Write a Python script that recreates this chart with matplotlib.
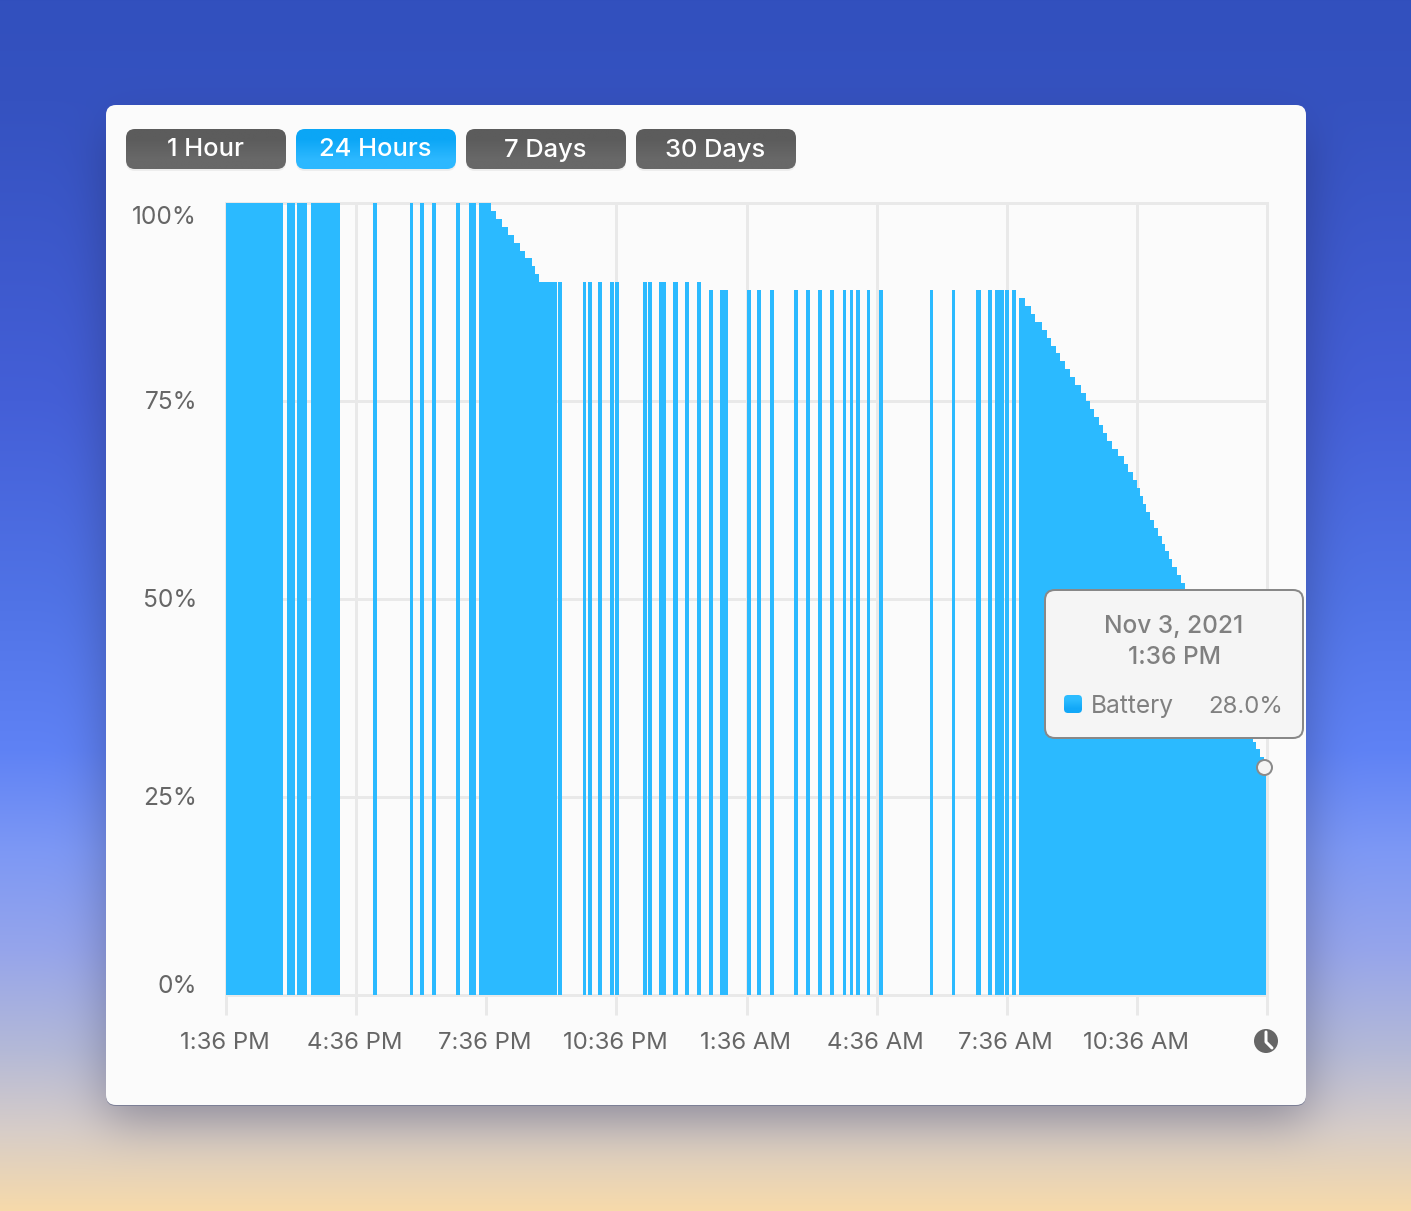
#!/usr/bin/env python3
# battery level chart, last 24 hours, with the window around it
import math
import numpy as np
import matplotlib
matplotlib.use("Agg")
import matplotlib.pyplot as plt
from matplotlib.patches import FancyBboxPatch, Circle
from matplotlib.transforms import ScaledTranslation

plt.rcParams['font.family'] = ['Inter', 'DejaVu Sans']

# minutes since 1:36 PM, stretches where the machine was awake
seg_starts = [0, 84.0, 98.2, 117.6, 203.3, 254.1, 268.4, 285.0, 318.6, 335.7, 350.0, 459.7,
              493.4, 500.3, 515.0, 531.2, 538.5, 577.3, 584.2, 598.6, 617.9, 634.5, 651.5,
              668.6, 683.0, 689.3, 721.1, 735.0, 752.1, 786.1, 802.7, 819.3, 835.9, 853.1,
              862.8, 871.9, 886.3, 903.3, 973.4, 1004.3, 1037.5, 1054.5, 1063.8, 1078.0,
              1087.7, 1097.4]
seg_ends = [78.4, 95.9, 112.5, 157.7, 208.9, 258.7, 273.5, 290.1, 323.7, 345.4, 457.5, 464.8,
            498.0, 505.9, 519.7, 536.7, 544.1, 582.8, 589.7, 608.7, 625.3, 640.0, 657.1,
            673.3, 688.5, 694.8, 726.7, 740.5, 757.7, 791.3, 807.9, 824.5, 841.1, 858.1,
            867.8, 877.4, 891.3, 908.8, 978.0, 1008.8, 1044.8, 1059.2, 1075.8, 1083.1,
            1092.8, 1438.6]

# battery level, each value holds from its time until the next one
level_times = [0, 366.6, 373.1, 382.2, 390.5, 398.8, 406.7, 413.6, 422.9, 427.4, 433.0, 662.0,
               1097.4, 1105.3, 1113.1, 1119.1, 1128.4, 1135.3, 1140.8, 1148.1, 1153.7, 1160.6,
               1167.5, 1174.4, 1182.3, 1189.6, 1195.2, 1200.7, 1208.0, 1213.6, 1218.3, 1225.6,
               1233.9, 1241.5, 1248.4, 1254.7, 1260.2, 1264.4, 1268.5, 1272.6, 1278.2, 1283.7,
               1289.2, 1294.8, 1298.9, 1303.8, 1308.6, 1315.5, 1321.1, 1326.6, 1332.1, 1357.0,
               1381.9, 1406.8, 1416.5, 1420.6, 1424.8, 1430.3, 1435.9]
level_values = [100, 99, 98, 97, 96, 95, 94, 93, 92, 91, 90, 89,
                88, 87, 86, 85, 84, 83, 82, 81, 80, 79,
                78, 77, 76, 75, 74, 73, 72, 71, 70, 69,
                68, 67, 66, 65, 64, 63, 62, 61, 60, 59,
                58, 57, 56, 55, 54, 53, 52, 51, 50, 45,
                40, 35, 33, 32, 31, 30, 29]

x_ticks = [0, 180, 360, 540, 720, 900, 1080, 1260, 1440]
x_labels = ["1:36 PM", "4:36 PM", "7:36 PM", "10:36 PM", "1:36 AM", "4:36 AM", "7:36 AM", "10:36 AM", ""]
y_ticks = [0, 25, 50, 75, 100]
y_labels = ["0%", "25%", "50%", "75%", "100%"]
buttons = ["1 Hour", "24 Hours", "7 Days", "30 Days"]
cursor_time = 1436.0
cursor_level = 28.8

W, H = 1411, 1211
BLUE = '#2bbaff'
GRID = '#e9e9e9'
TXT = '#666666'


def px(n):
    return n * 72 / 100


def gradient_box(ax, x, y, w, h, top, bottom, rad, zorder=3):
    box = FancyBboxPatch((x, y), w, h, boxstyle="round,pad=0,rounding_size=%g" % rad,
                         fc='none', ec='none', zorder=zorder)
    ax.add_patch(box)
    c = np.array([matplotlib.colors.to_rgb(top), matplotlib.colors.to_rgb(bottom)])
    im = ax.imshow(c[:, None, :], extent=(x, x + w, y + h, y), aspect='auto',
                   interpolation='bilinear', zorder=zorder)
    im.set_clip_path(box)


fig = plt.figure(figsize=(W / 100, H / 100), dpi=100)

# desktop, shadow, window
bg = fig.add_axes([0, 0, 1, 1], zorder=0)
bg.set_axis_off()
rows = np.arange(H)
stops = [0, 100, 400, 600, 750, 850, 950, 1050, 1130, 1211]
reds = [50, 53, 68, 80, 95, 125, 150, 180, 215, 247]
greens = [80, 82, 95, 115, 130, 152, 165, 185, 205, 218]
blues = [190, 192, 215, 230, 245, 245, 235, 215, 200, 170]
sky = np.stack([np.interp(rows, stops, reds), np.interp(rows, stops, greens),
                np.interp(rows, stops, blues)], axis=1) / 255
sky = np.repeat(sky[:, None, :], W, axis=1)

erf = np.vectorize(math.erf)
sig = 24 * math.sqrt(2)
sx = 0.5 * (erf((np.arange(W) - 106) / sig) - erf((np.arange(W) - 1306) / sig))
sy = 0.5 * (erf((rows - 130) / sig) - erf((rows - 1120) / sig))
shade = 0.34 * np.outer(sy, sx)[:, :, None]
sky = sky * (1 - shade) + np.array([0.1, 0.1, 0.2]) * shade
bg.imshow(sky, extent=(0, W, H, 0), aspect='auto', interpolation='nearest')
bg.set_xlim(0, W)
bg.set_ylim(H, 0)
bg.add_patch(FancyBboxPatch((106, 106), 1200, 1000, boxstyle="round,pad=0,rounding_size=10",
                            fc='#7c7f96', ec='none', zorder=1.5))
bg.add_patch(FancyBboxPatch((106, 105), 1200, 1000, boxstyle="round,pad=0,rounding_size=10",
                            fc='#fbfbfb', ec='none', zorder=2))

# range buttons
for i, name in enumerate(buttons):
    x = 126 + i * 170
    bg.add_patch(FancyBboxPatch((x, 131), 160, 40, boxstyle="round,pad=0,rounding_size=9",
                                fc='#ededed', ec='none', zorder=2.5))
    if name == "24 Hours":
        gradient_box(bg, x, 129, 160, 40, '#0ba6f6', '#2cb8ff', 9)
    else:
        gradient_box(bg, x, 129, 160, 40, '#5c5c5c', '#686868', 9)
    bg.text(x + 79.5, 150, name, color='white', fontsize=px(25.5), fontweight='medium',
            ha='center', va='center', zorder=4)
bg.set_xlim(0, W)
bg.set_ylim(H, 0)

# the chart itself
ax = fig.add_axes([226 / W, (H - 995) / H, 1041 / W, 792 / H], zorder=1)
ax.patch.set_visible(False)
for spine in ax.spines.values():
    spine.set_visible(False)

times = np.array(level_times)
values = np.array(level_values)
for a, b in zip(seg_starts, seg_ends):
    inner = times[(times > a) & (times < b)]
    xs = np.concatenate([[a], inner, [b]])
    ys = values[np.searchsorted(times, xs, side='right') - 1]
    ax.fill_between(xs, 0, ys, step='post', color=BLUE, lw=0, zorder=2)

ax.set_xlim(0, 1440)
ax.set_ylim(0, 100)
ax.set_xticks(x_ticks)
ax.set_xticklabels(x_labels)
ax.set_yticks(y_ticks)
ax.set_yticklabels(y_labels)
ax.grid(True, color=GRID, lw=px(3), zorder=1)
ax.set_axisbelow(True)
for line in ax.get_xgridlines() + ax.get_ygridlines():
    line.set_clip_on(False)
ax.tick_params(axis='x', length=px(20), width=px(3), color=GRID, pad=px(17),
               labelsize=px(24), labelcolor=TXT)
ax.tick_params(axis='y', length=0, pad=px(29), labelsize=px(24.5), labelcolor=TXT)

ylabs = ax.get_yticklabels()
ylabs[0].set_va('bottom')
ylabs[-1].set_va('top')
for lab, dy in zip(ylabs, [-3, 1, 1, 1, -3]):
    lab.set_transform(lab.get_transform() + ScaledTranslation(0, dy / 100, fig.dpi_scale_trans))
for lab in ax.get_xticklabels():
    lab.set_transform(lab.get_transform() + ScaledTranslation(-1 / 100, 0, fig.dpi_scale_trans))

ax.plot([cursor_time], [cursor_level], 'o', ms=px(15), mfc='#f4f4f4', mec='#8a8a8a', mew=px(2),
        clip_on=False, zorder=5)

# overlay: tooltip and clock icon
top = fig.add_axes([0, 0, 1, 1], zorder=2)
top.set_axis_off()
top.patch.set_visible(False)
top.add_patch(FancyBboxPatch((1045, 590), 258, 148, boxstyle="round,pad=0,rounding_size=10",
                             fc='#f5f5f5', ec='#888888', lw=px(2), zorder=2))
top.text(1174, 627, "Nov 3, 2021", color='#808080', fontsize=px(24.5), fontweight='medium',
         ha='center', va='center', zorder=3)
top.text(1174, 657, "1:36 PM", color='#808080', fontsize=px(24.5), fontweight='medium',
         ha='center', va='center', zorder=3)
gradient_box(top, 1064, 695, 18, 18, '#2cbcff', '#12a8f8', 4)
top.text(1091, 707, "Battery", color='#808080', fontsize=px(24.5), ha='left', va='center', zorder=3)
top.text(1283.5, 707, "28.0%", color='#808080', fontsize=px(24), ha='right', va='center', zorder=3)

top.add_patch(Circle((1266, 1041), 12, fc='#666666', ec='none', zorder=2))
top.plot([1266, 1266, 1272], [1032, 1042, 1048], color='white', lw=px(3), solid_capstyle='round',
         solid_joinstyle='round', zorder=3)
top.set_xlim(0, W)
top.set_ylim(H, 0)

fig.savefig('out.png', dpi=100)
